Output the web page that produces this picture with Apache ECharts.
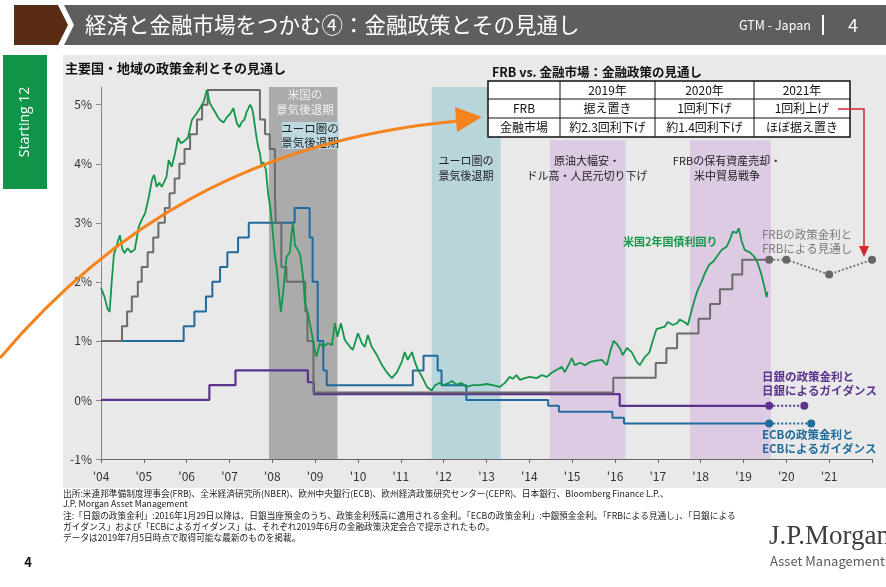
<!DOCTYPE html>
<html><head><meta charset="utf-8">
<script src="https://cdn.jsdelivr.net/npm/echarts@6/dist/echarts.min.js"></script>
<style>html,body{margin:0;padding:0;background:#fff}#c{width:886px;height:587px}</style>
</head><body><div id="c"></div>
<script>
// ---------- data ----------
const yearTicks = [2004,2005,2006,2007,2008,2009,2010,2011,2012,2013,2014,2015,2016,2017,2018,2019,2020,2021];
const yTicks = [-1,0,1,2,3,4,5];
const us2y = [
[2004.00,1.90],[2004.08,1.75],[2004.15,1.55],[2004.20,1.49],[2004.25,2.00],[2004.30,2.45],[2004.38,2.65],[2004.44,2.79],
[2004.50,2.55],[2004.55,2.49],[2004.62,2.57],[2004.70,2.50],[2004.79,2.55],[2004.88,2.93],[2004.95,3.05],[2005.03,3.16],
[2005.12,3.45],[2005.19,3.73],[2005.24,3.81],[2005.30,3.61],[2005.36,3.68],[2005.42,3.61],[2005.48,3.70],[2005.53,3.78],
[2005.58,4.06],[2005.65,3.95],[2005.72,4.15],[2005.80,4.44],[2005.86,4.35],[2005.92,4.37],[2006.03,4.44],[2006.12,4.74],
[2006.24,4.86],[2006.31,4.94],[2006.40,5.05],[2006.47,5.25],[2006.54,5.03],[2006.60,4.95],[2006.66,4.88],[2006.72,4.80],
[2006.78,4.74],[2006.86,4.70],[2006.94,4.79],[2007.02,4.85],[2007.09,4.94],[2007.17,4.69],[2007.23,4.62],[2007.29,4.71],
[2007.35,4.75],[2007.40,4.88],[2007.45,4.95],[2007.48,5.00],[2007.52,4.95],[2007.55,4.86],[2007.60,4.60],[2007.64,4.40],
[2007.68,4.25],[2007.71,4.18],[2007.75,3.95],[2007.79,4.03],[2007.85,3.90],[2007.90,3.50],[2007.95,3.27],[2007.99,3.00],
[2008.02,2.76],[2008.06,2.45],[2008.10,2.25],[2008.15,1.85],[2008.20,1.49],[2008.25,1.81],[2008.30,2.20],[2008.33,2.42],
[2008.41,2.50],[2008.45,2.83],[2008.48,3.00],[2008.53,2.62],[2008.60,2.54],[2008.65,2.45],[2008.69,2.24],[2008.73,2.00],
[2008.76,1.64],[2008.83,1.47],[2008.92,1.13],[2008.99,0.85],[2009.03,0.73],[2009.11,0.96],[2009.18,0.90],[2009.30,0.96],
[2009.39,0.93],[2009.46,1.30],[2009.52,1.07],[2009.60,1.30],[2009.69,1.02],[2009.81,0.90],[2009.88,0.85],[2010.00,1.13],
[2010.09,0.96],[2010.16,0.90],[2010.23,1.10],[2010.32,0.90],[2010.44,0.76],[2010.56,0.59],[2010.67,0.47],[2010.79,0.37],
[2010.91,0.47],[2011.02,0.64],[2011.09,0.81],[2011.16,0.68],[2011.26,0.81],[2011.33,0.64],[2011.40,0.51],[2011.49,0.40],
[2011.61,0.22],[2011.72,0.16],[2011.80,0.25],[2011.91,0.29],[2012.00,0.25],[2012.10,0.28],[2012.19,0.32],[2012.30,0.26],
[2012.42,0.29],[2012.53,0.22],[2012.68,0.25],[2012.84,0.25],[2013.00,0.27],[2013.15,0.25],[2013.31,0.22],[2013.43,0.29],
[2013.54,0.39],[2013.62,0.36],[2013.70,0.42],[2013.78,0.34],[2013.89,0.37],[2014.01,0.39],[2014.17,0.37],[2014.29,0.42],
[2014.41,0.39],[2014.52,0.46],[2014.64,0.51],[2014.76,0.56],[2014.83,0.47],[2014.92,0.60],[2014.99,0.71],[2015.06,0.59],
[2015.18,0.63],[2015.30,0.59],[2015.41,0.64],[2015.53,0.66],[2015.69,0.68],[2015.81,0.59],[2015.90,0.85],[2015.97,1.00],
[2016.04,0.95],[2016.11,0.88],[2016.18,0.76],[2016.28,0.88],[2016.39,0.81],[2016.51,0.64],[2016.58,0.59],[2016.70,0.73],
[2016.80,0.80],[2016.88,1.00],[2016.97,1.20],[2017.06,1.22],[2017.16,1.24],[2017.23,1.32],[2017.35,1.27],[2017.45,1.30],
[2017.51,1.36],[2017.62,1.32],[2017.70,1.27],[2017.79,1.52],[2017.86,1.70],[2017.93,1.86],[2018.02,2.00],[2018.10,2.15],
[2018.20,2.29],[2018.30,2.35],[2018.37,2.42],[2018.49,2.54],[2018.61,2.60],[2018.68,2.71],[2018.75,2.85],[2018.84,2.83],
[2018.89,2.91],[2018.96,2.68],[2019.03,2.54],[2019.15,2.50],[2019.26,2.42],[2019.33,2.32],[2019.42,2.12],[2019.49,1.91],
[2019.54,1.74],[2019.56,1.83]
];
const fedRate = [
[2004.00,1.0],[2004.49,1.25],[2004.61,1.5],[2004.72,1.75],[2004.86,2.0],[2004.95,2.25],[2005.09,2.5],[2005.22,2.75],
[2005.34,3.0],[2005.49,3.25],[2005.60,3.5],[2005.72,3.75],[2005.83,4.0],[2005.95,4.25],[2006.08,4.5],[2006.24,4.75],
[2006.36,5.0],[2006.49,5.25],[2007.71,4.75],[2007.83,4.5],[2007.94,4.25],[2008.06,3.5],[2008.08,3.0],[2008.21,2.25],
[2008.33,2.0],[2008.77,1.5],[2008.82,1.0],[2008.96,0.125],[2015.96,0.375],[2016.95,0.625],[2017.20,0.875],[2017.45,1.125],
[2017.95,1.375],[2018.22,1.625],[2018.45,1.875],[2018.74,2.125],[2018.97,2.375],[2019.60,2.375]
];
const ecbRate = [
[2004.00,1.0],[2005.93,1.25],[2006.18,1.5],[2006.45,1.75],[2006.60,2.0],[2006.78,2.25],[2006.95,2.5],[2007.20,2.75],
[2007.45,3.0],[2008.52,3.25],[2008.87,2.75],[2008.94,2.0],[2009.06,1.0],[2009.19,0.5],[2009.27,0.25],[2011.28,0.5],
[2011.53,0.75],[2011.86,0.5],[2011.95,0.25],[2012.53,0.0],[2014.44,-0.1],[2014.69,-0.2],[2015.94,-0.3],[2016.21,-0.4],
[2019.60,-0.4]
];
const bojRate = [
[2004.00,0.0],[2006.53,0.25],[2007.14,0.5],[2008.83,0.3],[2008.97,0.1],[2016.11,-0.1],[2019.60,-0.1]
];
const fedOutlook = [[2019.60,2.375],[2020.00,2.375],[2021.00,2.125],[2022.00,2.375]];
const bojGuidance = [[2019.60,-0.1],[2020.42,-0.1]];
const ecbGuidance = [[2019.60,-0.4],[2020.58,-0.4]];
const usRecession = [2007.92, 2009.52];
const euroRecession = [2011.72, 2013.33];
const oilShock = [2014.48, 2016.25];
const tradeWar = [2017.75, 2019.64];
const tableHeader = ['', '2019年', '2020年', '2021年'];
const tableFRB = ['FRB', '据え置き', '1回利下げ', '1回利上げ'];
const tableMarket = ['金融市場', '約2.3回利下げ', '約1.4回利下げ', 'ほぼ据え置き'];

// ---------- colors ----------
const C = {green:'#13964a', fed:'#6b6b6b', ecb:'#1f6c9c', boj:'#5b338e',
  usRec:'#ababab', euRec:'#b9d5dc', purple:'#dccbe3', panel:'#e9e9e9'};
const FONT = '"Noto Sans CJK JP", "Noto Sans", sans-serif';

const chart = echarts.init(document.getElementById('c'), null, {renderer:'canvas'});

// table graphic
const colX = [488, 560, 655, 754, 850];
const rowY = [81, 99, 118, 137];
const tableEls = [];
tableEls.push({type:'rect', shape:{x:colX[0], y:rowY[0], width:colX[4]-colX[0], height:rowY[3]-rowY[0]},
  style:{fill:'#fff', stroke:'#111', lineWidth:1.5}, z:50});
for (let i=1;i<4;i++) tableEls.push({type:'line', shape:{x1:colX[i],y1:rowY[0],x2:colX[i],y2:rowY[3]}, style:{stroke:'#111',lineWidth:1}, z:51});
for (let j=1;j<3;j++) tableEls.push({type:'line', shape:{x1:colX[0],y1:rowY[j],x2:colX[4],y2:rowY[j]}, style:{stroke:'#111',lineWidth:1}, z:51});
[tableHeader, tableFRB, tableMarket].forEach((row, r) => {
  row.forEach((t, c) => {
    if (!t) return;
    tableEls.push({type:'text', x:(colX[c]+colX[c+1])/2, y:(rowY[r]+rowY[r+1])/2, z:52,
      style:{text:t, fill:'#111', font:'12px '+FONT, align:'center', verticalAlign:'middle'}});
  });
});

function txt(x, y, text, size, color, opts) {
  opts = opts || {};
  return Object.assign({type:'text', x:x, y:y, z: opts.z || 40,
    style:{text:text, fill:color, font:(opts.weight||'normal')+' '+size+'px '+(opts.family||FONT),
      align:opts.align||'left', verticalAlign:opts.va||'middle', lineHeight:opts.lh||size+3}}, opts.extra||{});
}

const graphics = [
  // panel background
  {type:'rect', shape:{x:63, y:55, width:823, height:433}, style:{fill:C.panel}, z:-10, silent:true},
  // header banner
  {type:'polygon', shape:{points:[[14,5],[58,5],[68,25],[58,45],[14,45]]}, style:{fill:'#5a2c14'}, z:-5},
  {type:'polygon', shape:{points:[[64,5],[886,5],[886,45],[64,45],[74,25]]}, style:{fill:'#5e5e5e'}, z:-5},
  txt(85, 25, '経済と金融市場をつかむ④：金融政策とその見通し', 21.5, '#fff'),
  txt(739, 25, 'GTM - Japan', 12.5, '#fff'),
  {type:'rect', shape:{x:822, y:15, width:2, height:20}, style:{fill:'#fff'}, z:40},
  txt(853, 25, '4', 18, '#fff', {align:'center'}),
  // sidebar
  {type:'rect', shape:{x:3, y:55, width:44, height:134}, style:{fill:'#0f9448'}, z:-5},
  {type:'text', x:25, y:122, rotation:Math.PI/2, z:40,
    style:{text:'Starting 12', fill:'#fff', font:'14px "Open Sans", sans-serif', align:'center', verticalAlign:'middle'}},
  // chart title
  txt(65, 68, '主要国・地域の政策金利とその見通し', 13, '#111', {weight:'bold'}),
  txt(492, 72, 'FRB vs. 金融市場：金融政策の見通し', 12.5, '#111', {weight:'bold'}),
  // shaded labels
  txt(305, 102, '米国の\n景気後退期', 11.5, '#f2f2f2', {align:'center', lh:15}),
  {type:'rect', shape:{x:282, y:122, width:57, height:27}, style:{fill:'#bcd8e0'}, z:39},
  txt(310, 136, 'ユーロ圏の\n景気後退期', 11.5, '#222', {align:'center', lh:14}),
  txt(466, 168, 'ユーロ圏の\n景気後退期', 11, '#222', {align:'center', lh:15}),
  txt(587, 168, '原油大幅安・\nドル高・人民元切り下げ', 11, '#222', {align:'center', lh:15}),
  txt(727, 168, 'FRBの保有資産売却・\n米中貿易戦争', 11, '#222', {align:'center', lh:15}),
  txt(623, 242, '米国2年国債利回り', 11, C.green, {weight:'bold'}),
  txt(762, 242, 'FRBの政策金利と\nFRBによる見通し', 11.5, '#7a7a7a', {lh:14}),
  txt(762, 384, '日銀の政策金利と\n日銀によるガイダンス', 11.5, C.boj, {weight:'bold', lh:14}),
  txt(762, 442, 'ECBの政策金利と\nECBによるガイダンス', 11.5, C.ecb, {weight:'bold', lh:14}),
  // footnotes
  txt(63, 494, '出所:米連邦準備制度理事会(FRB)、全米経済研究所(NBER)、欧州中央銀行(ECB)、欧州経済政策研究センター(CEPR)、日本銀行、Bloomberg Finance L.P.、', 8.7, '#222'),
  txt(63, 504, 'J.P. Morgan Asset Management', 8.7, '#222'),
  txt(63, 516, '注:「日銀の政策金利」:2016年1月29日以降は、日銀当座預金のうち、政策金利残高に適用される金利。「ECBの政策金利」:中銀預金金利。「FRBによる見通し」、「日銀による', 8.7, '#222'),
  txt(63, 527, 'ガイダンス」および「ECBによるガイダンス」は、それぞれ2019年6月の金融政策決定会合で提示されたもの。', 8.7, '#222'),
  txt(63, 538, 'データは2019年7月5日時点で取得可能な最新のものを掲載。', 8.7, '#222'),
  txt(28, 562, '4', 13, '#111', {weight:'bold', align:'center'}),
  // logo
  txt(769, 537, 'J.P.Morgan', 27, '#3d3d3d', {family:'"Liberation Serif", serif'}),
  txt(770, 561, 'Asset Management', 13, '#5a5a5a'),
  // orange arrow
  {type:'bezierCurve', shape:{x1:0, y1:358, cpx1:110, cpy1:228, cpx2:250, cpy2:140, x2:458, y2:121},
    style:{stroke:'#f5841f', lineWidth:3, fill:null}, z:60},
  {type:'polygon', shape:{points:[[455,107],[482,117],[457,132]]}, style:{fill:'#f5841f'}, z:60},
  // red arrow
  {type:'polyline', shape:{points:[[838,109],[864,109],[864,248]]}, style:{stroke:'#d6262d', lineWidth:1.5, fill:null}, z:60},
  {type:'polygon', shape:{points:[[859,246],[869,246],[864,257]]}, style:{fill:'#d6262d'}, z:60}
].concat(tableEls);

function area(range, top, color) {
  return [{xAxis:range[0], yAxis:-1, itemStyle:{color:color}}, {xAxis:range[1], yAxis:top}];
}

const option = {
  animation:false,
  textStyle:{fontFamily:FONT},
  grid:{left:101, right:14, top:87, bottom:128, containLabel:false},
  xAxis:[
    {type:'value', min:2004, max:2022, interval:1, position:'bottom',
      axisLine:{show:false}, axisTick:{show:false}, splitLine:{show:false},
      axisLabel:{color:'#333', fontSize:12, margin:11, customValues:yearTicks,
        formatter:v => "'" + String(v).slice(2)}},
    {type:'value', min:2004, max:2022, interval:1, position:'bottom',
      axisLine:{show:true, onZero:true, lineStyle:{color:'#666', width:1}},
      axisTick:{show:true, length:4, lineStyle:{color:'#666'}}, axisLabel:{show:false}, splitLine:{show:false}}
  ],
  yAxis:{type:'value', min:-1, max:5.3,
    axisLine:{show:true, lineStyle:{color:'#888'}},
    axisTick:{show:true, length:5, customValues:yTicks, lineStyle:{color:'#888'}},
    axisLabel:{color:'#333', fontSize:12, margin:9, customValues:yTicks, formatter:v => v + '%'},
    splitLine:{show:false}},
  graphic:graphics,
  series:[
    {type:'line', data:[[2004,-5]], symbol:'none', lineStyle:{opacity:0}, z:1, silent:true,
      markArea:{silent:true, data:[
        area(usRecession, 5.3, C.usRec),
        area(euroRecession, 5.3, C.euRec),
        area(oilShock, 4.4, C.purple),
        area(tradeWar, 4.4, C.purple)
      ]}},
    {name:'BOJ', type:'line', step:'end', data:bojRate, symbol:'none', lineStyle:{color:C.boj, width:2.2}, z:3},
    {name:'ECB', type:'line', step:'end', data:ecbRate, symbol:'none', lineStyle:{color:C.ecb, width:2}, z:4},
    {name:'FRB', type:'line', step:'end', data:fedRate, symbol:'none', lineStyle:{color:C.fed, width:2}, z:5},
    {name:'US2Y', type:'line', data:us2y, symbol:'none', lineStyle:{color:C.green, width:1.8}, z:6},
    {name:'FRB outlook', type:'line', data:fedOutlook, symbol:'circle', symbolSize:8, itemStyle:{color:'#666'},
      lineStyle:{color:'#777', width:2, type:'dotted'}, z:7},
    {name:'BOJ guidance', type:'line', data:bojGuidance, symbol:'circle', symbolSize:8, itemStyle:{color:C.boj},
      lineStyle:{color:C.boj, width:2, type:'dotted'}, z:7},
    {name:'ECB guidance', type:'line', data:ecbGuidance, symbol:'circle', symbolSize:8, itemStyle:{color:C.ecb},
      lineStyle:{color:C.ecb, width:2, type:'dotted'}, z:7}
  ]
};
chart.setOption(option);
</script></body></html>
